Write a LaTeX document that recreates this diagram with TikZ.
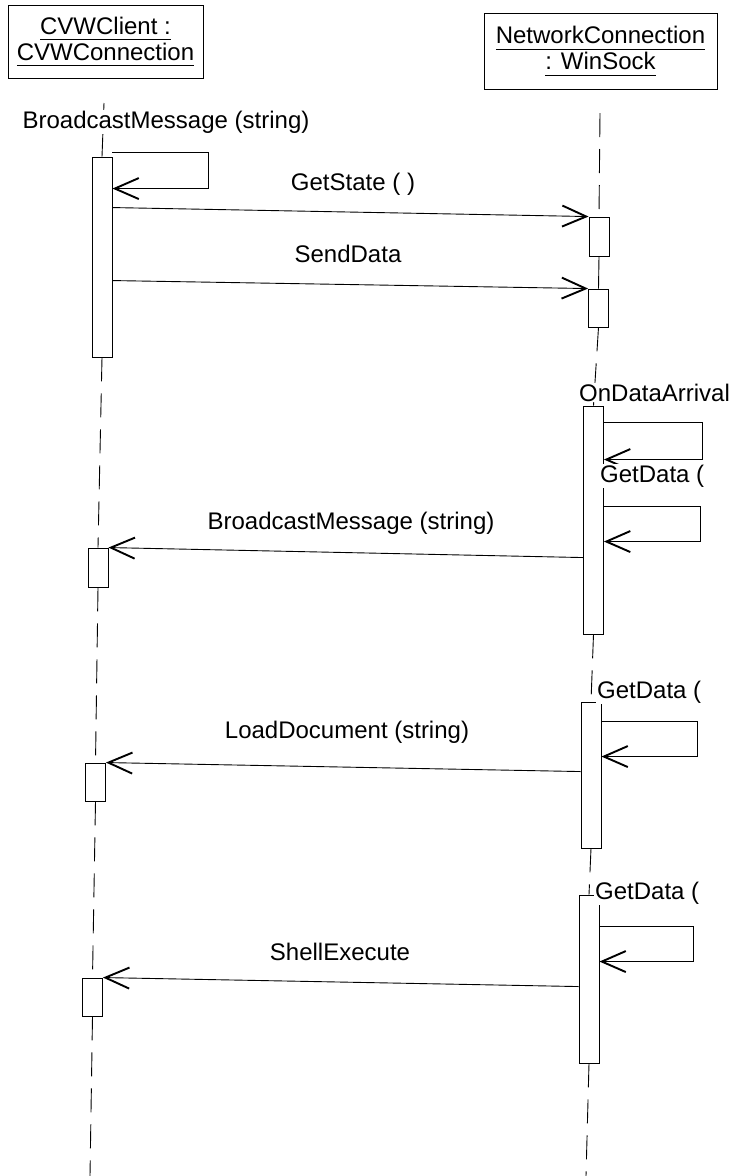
\documentclass[tikz,border=0pt]{standalone}
\usepackage{fontspec}
\setmainfont{Liberation Sans}
\usetikzlibrary{arrows.meta,calc}
\newcommand\myul[1]{\setbox0\hbox{#1}\rlap{\rule[-6pt]{\wd0}{0.9pt}}\box0}
\begin{document}
\begin{tikzpicture}[x=1pt,y=-1pt,
  every node/.style={font=\fontsize{24}{26}\selectfont},
  ln/.style={line width=0.9pt},
  part/.style={draw,ln,rectangle,inner sep=0pt,align=center},
  act/.style={draw,ln,rectangle,fill=white,minimum width=20pt,inner sep=0pt},
  life/.style={ln,dash pattern=on 24pt off 12pt},
  msg/.style={ln,-{Straight Barb[length=24pt,width=21pt,line width=1.9pt]}},
  lbl/.style={fill=white,inner sep=1pt,anchor=base}]
\useasboundingbox (0,0) rectangle (731,1176);

% participants
\node[part,minimum width=195pt,minimum height=73pt] (cvw) at (105.5,41.5) {\myul{CVWClient :}\\\myul{CVWConnection}};
\node[part,minimum width=233pt,minimum height=76pt] (net) at (600.5,51) {\myul{NetworkConnection}\\\myul{: WinSock}};

% activations
\node[act,minimum height=200pt] (L1) at (102,257) {};
\node[act,minimum height=39pt] (L2) at (98,567.5) {};
\node[act,minimum height=38pt] (L3) at (95.5,782) {};
\node[act,minimum height=38pt] (L4) at (92.5,997) {};
\node[act,minimum height=39pt] (R1) at (599,236.5) {};
\node[act,minimum height=38pt] (R2) at (598.5,308) {};
\node[act,minimum height=228pt] (R3) at (593.5,520) {};
\node[act,minimum height=146pt] (R4) at (591,775) {};
\node[act,minimum height=168pt] (R5) at (589,979) {};

\coordinate (ltop) at (104,103);
\coordinate (lbot) at (90,1176);
\coordinate (rtop) at (600,113);
\coordinate (rbot) at (586,1176);

% lifelines
\draw[ln] (ltop) -- (L1.north);
\draw[life] (L1.south) -- (L2.north);
\draw[life] (L2.south) -- (L3.north);
\draw[life] (L3.south) -- (L4.north);
\draw[life] (L4.south) -- (lbot);
\draw[life] (rtop) -- (R1.north);
\draw[ln] (R1.south) -- (R2.north);
\draw[life] (R2.south) -- (R3.north);
\draw[life] (R3.south) -- (R4.north);
\draw[life] (R4.south) -- (R5.north);
\draw[life] (R5.south) -- (rbot);

% messages
\draw[msg] ($(L1.north east)+(0,-4)$) -- ++(96,0) -- ++(0,36) -- ++(-96,0);
\draw[msg] ($(L1.north east)+(0,51)$) -- (R1.north west);
\draw[msg] ($(L1.north east)+(0,124)$) -- (R2.north west);
\draw[msg] ($(R3.north east)+(0,17)$) -- ++(98,0) -- ++(0,37) -- ++(-98,0);
\draw[msg] ($(R3.north east)+(0,101)$) -- ++(96,0) -- ++(0,35) -- ++(-96,0);
\draw[msg] ($(R3.north west)+(0,152)$) -- (L2.north east);
\draw[msg] ($(R4.north east)+(0,20)$) -- ++(96,0) -- ++(0,35) -- ++(-96,0);
\draw[msg] ($(R4.north west)+(0,70)$) -- (L3.north east);
\draw[msg] ($(R5.north east)+(0,32)$) -- ++(94,0) -- ++(0,35) -- ++(-94,0);
\draw[msg] ($(R5.north west)+(0,92)$) -- (L4.north east);

% labels
\node[lbl] (t1) at (166,128) {BroadcastMessage (string)};
\node[lbl] (t2) at (353,190) {GetState ( )};
\node[lbl] (t3) at (348,262) {SendData};
\node[lbl,anchor=base west] (t4) at (578,401) {OnDataArrival};
\node[lbl,anchor=base west] (t5) at (599,482) {GetData (};
\node[lbl] (t6) at (351,529) {BroadcastMessage (string)};
\node[lbl,anchor=base west] (t7) at (596,698) {GetData (};
\node[lbl] (t8) at (347,738) {LoadDocument (string)};
\node[lbl,anchor=base west] (t9) at (594,899) {GetData (};
\node[lbl] (t10) at (340,960) {ShellExecute};
\end{tikzpicture}
\end{document}
